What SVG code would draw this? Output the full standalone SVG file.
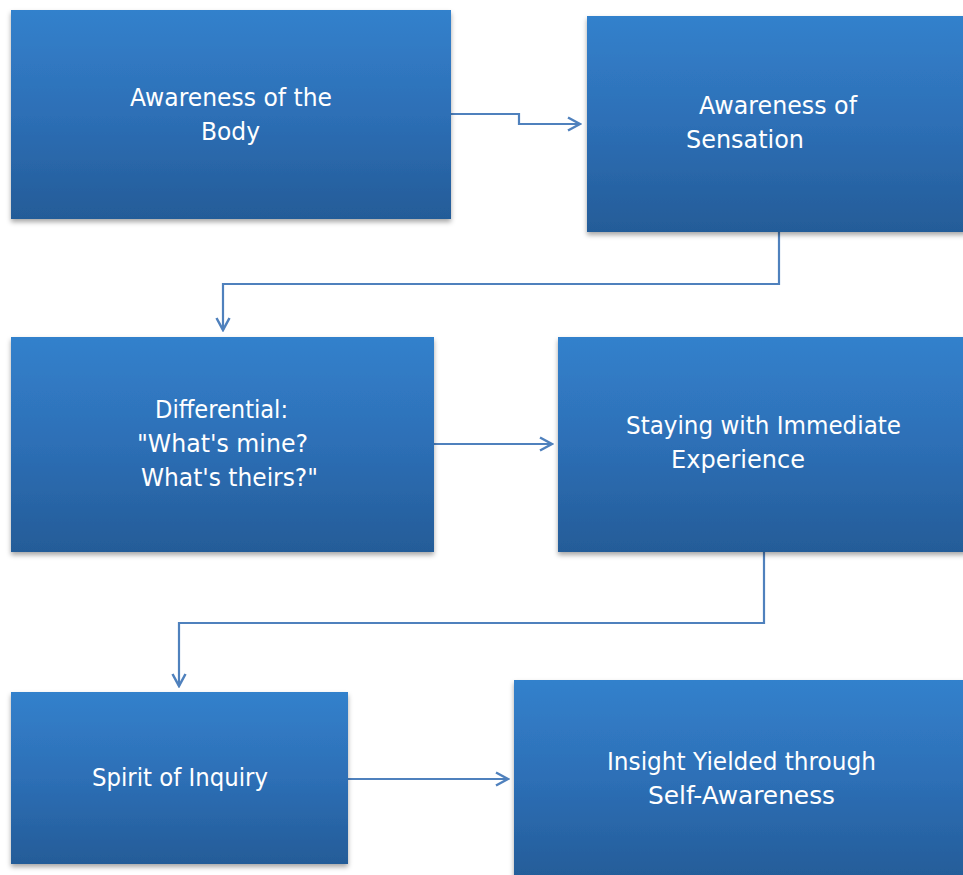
<svg xmlns="http://www.w3.org/2000/svg" width="963" height="875" viewBox="0 0 963 875">
<defs>
<linearGradient id="g" x1="0" y1="0" x2="0" y2="1">
<stop offset="0" stop-color="#3381cc"/>
<stop offset="0.5" stop-color="#2d6fb6"/>
<stop offset="1" stop-color="#245c98"/>
</linearGradient>
<filter id="sh" x="-5%" y="-5%" width="115%" height="120%">
<feDropShadow dx="0" dy="3" stdDeviation="2.5" flood-color="#000" flood-opacity="0.35"/>
</filter>
<marker id="arr" viewBox="0 0 16 16" refX="14" refY="8" markerWidth="16" markerHeight="16" markerUnits="userSpaceOnUse" orient="auto">
<path d="M2,1.5 L14,8 L2,14.5" fill="none" stroke="#4f81bd" stroke-width="2.5"/>
</marker>
<style>
.box{fill:url(#g);filter:url(#sh)}
.t{fill:#fff;font-family:"DejaVu Sans","Liberation Sans",sans-serif;font-size:24px}
.c{fill:none;stroke:#4f81bd;stroke-width:2.2;marker-end:url(#arr)}
</style>
</defs>
<rect width="963" height="875" fill="#fff"/>
<g id="connectors">
<path class="c" d="M451,114 H519 V124 H580"/>
<path class="c" d="M779,232 V284 H223 V330"/>
<path class="c" d="M434,444 H552"/>
<path class="c" d="M764,552 V623 H179 V686"/>
<path class="c" d="M348,779 H508"/>
</g>
<g id="n1">
<rect class="box" x="11" y="10" width="440" height="209"/>
<text class="t" x="130" y="106" textLength="202" lengthAdjust="spacingAndGlyphs">Awareness of the</text>
<text class="t" x="201" y="140" textLength="59" lengthAdjust="spacingAndGlyphs">Body</text>
</g>
<g id="n2">
<rect class="box" x="587" y="16" width="380" height="216"/>
<text class="t" x="699" y="114" textLength="158" lengthAdjust="spacingAndGlyphs">Awareness of</text>
<text class="t" x="686" y="148" textLength="118" lengthAdjust="spacingAndGlyphs">Sensation</text>
</g>
<g id="n3">
<rect class="box" x="11" y="337" width="423" height="215"/>
<text class="t" x="155" y="418" textLength="133" lengthAdjust="spacingAndGlyphs">Differential:</text>
<text class="t" x="137" y="452" textLength="171" lengthAdjust="spacingAndGlyphs">"What's mine?</text>
<text class="t" x="141" y="486" textLength="177" lengthAdjust="spacingAndGlyphs">What's theirs?"</text>
</g>
<g id="n4">
<rect class="box" x="558" y="337" width="409" height="215"/>
<text class="t" x="626" y="434" textLength="275" lengthAdjust="spacingAndGlyphs">Staying with Immediate</text>
<text class="t" x="671" y="468" textLength="134" lengthAdjust="spacingAndGlyphs">Experience</text>
</g>
<g id="n5">
<rect class="box" x="11" y="692" width="337" height="172"/>
<text class="t" x="92" y="786" textLength="176" lengthAdjust="spacingAndGlyphs">Spirit of Inquiry</text>
</g>
<g id="n6">
<rect class="box" x="514" y="680" width="453" height="200"/>
<text class="t" x="607" y="770" textLength="269" lengthAdjust="spacingAndGlyphs">Insight Yielded through</text>
<text class="t" x="648" y="804" textLength="187" lengthAdjust="spacingAndGlyphs">Self-Awareness</text>
</g>
</svg>
